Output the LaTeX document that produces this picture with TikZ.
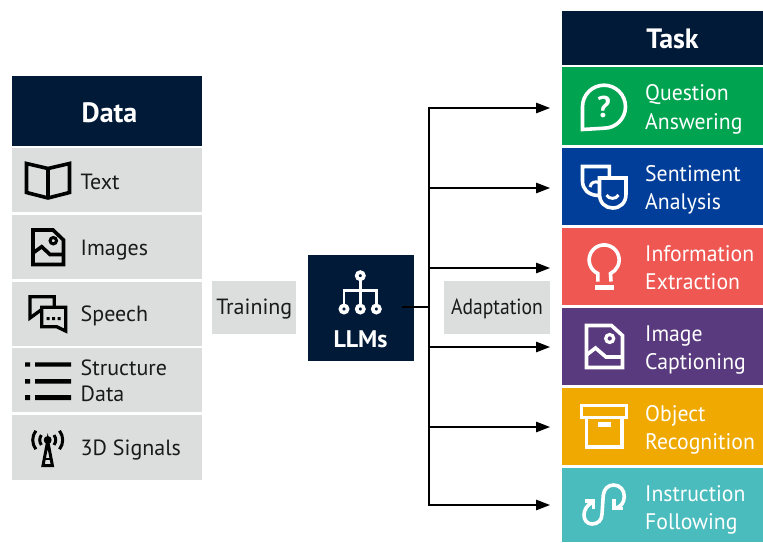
\documentclass[tikz,border=0pt]{standalone}
\usepackage{fontspec}
\setmainfont{PT Sans}
\newfontfamily\taskfont[FakeStretch=0.965]{PT Sans}
\newfontfamily\adaptfont[FakeStretch=0.89]{PT Sans}
\usetikzlibrary{arrows.meta}
\definecolor{navy}{HTML}{001A38}
\definecolor{panel}{HTML}{DCDDDD}
\definecolor{cgreen}{HTML}{00A34F}
\definecolor{cblue}{HTML}{003E99}
\definecolor{cred}{HTML}{EF5752}
\definecolor{cpurple}{HTML}{5A3A7E}
\definecolor{corange}{HTML}{EFA900}
\definecolor{cteal}{HTML}{4ABCBD}
\definecolor{ink}{HTML}{1A1A1A}
\tikzset{
  x=1pt,y=-1pt,
  block/.style={anchor=north west,inner sep=0pt,outer sep=0pt,draw=none},
  rowlabel/.style={anchor=west,inner sep=0pt,align=left,font=\fontsize{22}{26}\selectfont,text=ink},
  tasklabel/.style={anchor=west,inner sep=0pt,align=left,font=\taskfont\fontsize{22.5}{28.4}\selectfont,text=white},
  heading/.style={inner sep=0pt,font=\fontsize{28}{32}\selectfont\bfseries,text=white},
  link/.style={draw=black,line width=1.3pt},
  branch/.style={link,-{Triangle[length=14pt,width=10.5pt]},shorten >=12pt},
  blackicon/.style={draw=black,line width=3.6pt,line join=miter,fill=none},
  whiteicon/.style={draw=white,line width=3.6pt,line join=miter,fill=none},
}
\begin{document}
\begin{tikzpicture}
\useasboundingbox (0,0) rectangle (763,542);
% Data column
\node[block,fill=navy,minimum width=190pt,minimum height=70pt] (data) at (12,76) {};
\node[heading] (datat) at (109.5,112.5) {Data};
\node[block,fill=panel,minimum width=190pt,minimum height=64pt] (r1) at (12,148) {};
\node[block,fill=panel,minimum width=190pt,minimum height=64pt] (r2) at (12,215) {};
\node[block,fill=panel,minimum width=190pt,minimum height=64pt] (r3) at (12,282) {};
\node[block,fill=panel,minimum width=190pt,minimum height=64pt] (r4) at (12,348) {};
\node[block,fill=panel,minimum width=190pt,minimum height=65pt] (r5) at (12,415) {};
\node[rowlabel] (r1t) at (80.5,181.5) {Text};
\node[rowlabel] (r2t) at (80.5,250) {Images};
\node[rowlabel] (r3t) at (80.5,315.5) {Speech};
\node[rowlabel] (r4t) at (80.5,381) {Structure\\Data};
\node[rowlabel] (r5t) at (80.5,449.5) {3D Signals};
% book
\draw[blackicon] (26.5,163.5) -- (48,168.5) -- (69.5,163.5) -- (69.5,192.5) -- (48,198) -- (26.5,192.5) -- cycle;
\draw[blackicon] (48,168.5) -- (48,198);
% image
\draw[blackicon] (33,230) -- (53,230) -- (63.5,240) -- (63.5,264.5) -- (33,264.5) -- cycle;
\draw[blackicon] (33,253) -- (41.7,246.7) -- (50,254.5) -- (63.5,254.5);
\draw[black,line width=3pt] (53.3,240.7) circle[radius=3.2pt];
% speech
\draw[black,line width=3.3pt,line join=miter] (54.3,307.3) -- (54.3,296.7) -- (30,296.7) -- (30,318) -- (41.7,309.5);
\draw[black,line width=3.3pt,line join=miter] (41.7,307.3) -- (65.7,307.3) -- (65.7,331) -- (56.7,326.7) -- (41.7,326.7) -- cycle;
\fill[black] (46.5,317) rectangle (49.5,320) (52,317) rectangle (55,320) (57.5,317) rectangle (60.5,320);
% list
\fill[black] (25,362.3) rectangle (30,366.7) (35,362.3) rectangle (71,366.7)
             (25,379) rectangle (30,383.5) (35,379) rectangle (71,383.5)
             (25,395) rectangle (30,400) (35,395) rectangle (71,400);
% antenna
\coordinate (ant) at (47.7,440);
\draw[black,line width=3pt,line join=miter] (47.7,441) -- (43,465.5) -- (52.4,465.5) -- cycle;
\draw[black,line width=2pt] (44.5,459) -- (51,459);
\fill[black] (ant) circle[radius=4pt];
\draw[black,line width=3pt] ([shift={(-38:8pt)}]ant) arc[start angle=-38,end angle=38,radius=8pt];
\draw[black,line width=3pt] ([shift={(-38:15pt)}]ant) arc[start angle=-38,end angle=38,radius=15pt];
\draw[black,line width=3pt] ([shift={(142:8pt)}]ant) arc[start angle=142,end angle=218,radius=8pt];
\draw[black,line width=3pt] ([shift={(142:15pt)}]ant) arc[start angle=142,end angle=218,radius=15pt];
% Middle
\node[block,fill=panel,minimum width=84pt,minimum height=53pt] (train) at (212,281) {};
\node[rowlabel,anchor=center] (traint) at (254.3,309) {Training};
\node[block,fill=navy,minimum width=106pt,minimum height=106pt] (llm) at (308,255) {};
\node[heading,font=\fontsize{24}{28}\selectfont\bfseries] (llmt) at (360.5,339.5) {LLMs};
\node[block,fill=panel,minimum width=106pt,minimum height=53pt] (adapt) at (444,281) {};
\node[rowlabel,anchor=center,font=\adaptfont\fontsize{22}{26}\selectfont] (adaptt) at (497,309) {Adaptation};
% LLM icon
\draw[white,line width=2.8pt] (360.3,276) -- (360.3,290.7) (344,309) -- (344,290.7) -- (376.3,290.7) -- (376.3,309) (360.3,290.7) -- (360.3,309);
\foreach \px/\py in {360.3/275.7,344/309,360.3/309,376.3/309}
  \draw[white,fill=navy,line width=3.6pt] (\px,\py) circle[radius=3.6pt];
% Task column
\node[block,fill=navy,minimum width=201pt,minimum height=54pt] (task) at (562,11) {};
\node[heading] (taskt) at (672.5,38.5) {Task};
\node[block,fill=cgreen,minimum width=201pt,minimum height=78pt] (t1) at (562,67) {};
\node[block,fill=cblue,minimum width=201pt,minimum height=77pt] (t2) at (562,148) {};
\node[block,fill=cred,minimum width=201pt,minimum height=77pt] (t3) at (562,228) {};
\node[block,fill=cpurple,minimum width=201pt,minimum height=77pt] (t4) at (562,308) {};
\node[block,fill=corange,minimum width=201pt,minimum height=77pt] (t5) at (562,388) {};
\node[block,fill=cteal,minimum width=201pt,minimum height=74pt] (t6) at (562,468) {};
\node[tasklabel] (t1t) at (645,109.5) {Question\\Answering};
\node[tasklabel] (t2t) at (645,190) {Sentiment\\Analysis};
\node[tasklabel] (t3t) at (645,267.5) {Information\\Extraction};
\node[tasklabel] (t4t) at (645,350) {Image\\Captioning};
\node[tasklabel] (t5t) at (645,430) {Object\\Recognition};
\node[tasklabel] (t6t) at (645,510) {Instruction\\Following};
% question icon
\draw[whiteicon] (582.5,129.5) -- (582.5,106.7) arc[start angle=180,end angle=-90,radius=21.5pt] -- cycle;
\node[inner sep=0pt,font=\fontsize{30}{32}\selectfont\bfseries,text=white] (qm) at (604,106.5) {?};
% masks
\draw[whiteicon] (609.3,177) -- (609.3,166.5) -- (582.5,166.5) -- (582.5,181) .. controls (582.5,189) and (588,195) .. (598,195.5);
\draw[whiteicon] (599.5,178) -- (626,178) -- (626,194) .. controls (626,203) and (620,208) .. (612.7,208) .. controls (605.5,208) and (599.5,203) .. (599.5,194) -- cycle;
\draw[white,line width=3pt] (590,187) .. controls (591,182) and (595,181) .. (599,182.5);
\draw[white,line width=3pt] (606.5,195) .. controls (609,199.5) and (616,199.5) .. (618.5,195);
% bulb
\draw[whiteicon] (597.8,281.5) -- (597.8,273.5) arc[start angle=245,end angle=-65,radius=15pt] -- (611,281.5);
\fill[white] (595,285) rectangle (614,290);
% image white
\draw[whiteicon] (586.5,325.5) -- (611.5,325.5) -- (622.5,335.5) -- (622.5,367.5) -- (586.5,367.5) -- cycle;
\draw[whiteicon] (586.5,355) -- (595.5,348) -- (606,357) -- (622.5,357);
\draw[white,line width=3.2pt] (609.7,338.5) circle[radius=4pt];
% box
\draw[whiteicon] (581.3,405.3) rectangle (626.5,417.5);
\draw[whiteicon] (586.3,417.5) -- (586.3,447) -- (622.2,447) -- (622.2,417.5);
\fill[white] (598.3,422.3) rectangle (611,426.7);
% squiggle
\draw[whiteicon,line cap=butt] (592.3,502.3) .. controls (587,505) and (584,510) .. (584,515) .. controls (584,520) and (587,524) .. (592,524) .. controls (598,524) and (602,520) .. (602,514) -- (603.3,495) .. controls (604,489) and (608,485) .. (613.5,485) .. controls (620,485) and (624.3,490) .. (624.3,496.5) .. controls (624.3,503) and (620,508) .. (614.3,508.3);
\draw[whiteicon] (585,500.7) -- (593.3,500.7) -- (593.3,509);
\draw[whiteicon] (614,499) -- (614,508.3) -- (623.3,508.3);
% Connectors
\coordinate (hub) at (429,307);
\draw[link] ([xshift=-12pt,yshift=1pt]llm.east) -- (hub);
\draw[branch] (hub) |- ([yshift=-2pt]t1.west);
\draw[branch] (hub) |- ([yshift=-1.5pt]t2.west);
\draw[branch] (hub) |- ([yshift=-1.5pt]t3.west);
\draw[branch] (hub) |- ([yshift=-0.5pt]t4.west);
\draw[branch] (hub) |- ([yshift=-0.5pt]t5.west);
\draw[branch] (hub) |- (t6.west);
\end{tikzpicture}
\end{document}
